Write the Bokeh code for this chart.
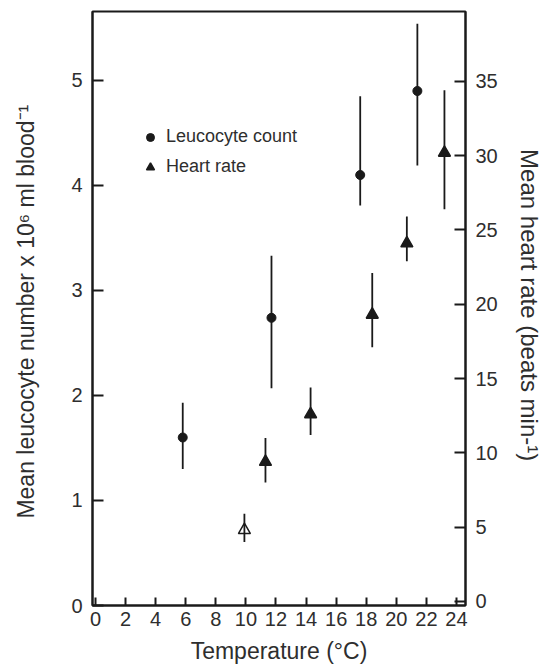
from bokeh.plotting import figure
from bokeh.models import (Range1d, LinearAxis, FixedTicker, Legend, LegendItem,
                          ColumnDataSource)
from bokeh.embed import file_html
from bokeh.resources import INLINE

# Leucocyte count (left axis, x10^6 ml blood^-1)
leuco_temp = [5.8, 11.7, 17.6, 21.4]
leuco_mean = [1.60, 2.74, 4.10, 4.90]
leuco_low = [1.30, 2.07, 3.81, 4.19]
leuco_high = [1.93, 3.33, 4.85, 5.54]

# Heart rate (right axis, beats min^-1)
hr_temp = [9.9, 11.3, 14.3, 18.4, 20.7, 23.2]
hr_mean = [4.8, 9.4, 12.6, 19.3, 24.1, 30.2]
hr_low = [4.0, 8.0, 11.2, 17.1, 22.9, 26.4]
hr_high = [5.9, 11.0, 14.4, 22.1, 25.9, 34.4]

x_ticks = [0, 2, 4, 6, 8, 10, 12, 14, 16, 18, 20, 22, 24]
left_ticks = [0, 1, 2, 3, 4, 5]
right_ticks = [0, 5, 10, 15, 20, 25, 30, 35]

x_title = "Temperature (°C)"
left_title = "Mean leucocyte number x 10\u2076  ml blood\u207b\u00b9"
right_title = "Mean heart rate (beats  min-\u00b9)"

FONT = "Liberation Sans"
TEXT = "#2e2e2e"
INK = "#1a1a1a"

p = figure(width=546, height=668, output_backend="svg", toolbar_location=None,
           x_range=Range1d(-0.2, 24.6), y_range=Range1d(0, 5.657),
           min_border_left=92, min_border_right=81, min_border_top=11,
           min_border_bottom=63)
p.extra_y_ranges = {"hr": Range1d(-0.27, 39.7)}
p.grid.visible = False
p.outline_line_color = INK
p.outline_line_width = 2
p.background_fill_color = "white"
p.border_fill_color = "white"


def style_axis(ax, tick_len, title_size):
    ax.axis_line_color = INK
    ax.axis_line_width = 2
    ax.major_tick_line_color = INK
    ax.major_tick_line_width = 2
    ax.major_tick_in = tick_len
    ax.major_tick_out = 0
    ax.minor_tick_line_color = None
    ax.major_label_text_font = FONT
    ax.major_label_text_font_size = "20px"
    ax.major_label_text_color = TEXT
    ax.axis_label_text_font = FONT
    ax.axis_label_text_font_size = title_size
    ax.axis_label_text_font_style = "normal"
    ax.axis_label_text_color = TEXT


xa = p.xaxis[0]
xa.ticker = FixedTicker(ticks=x_ticks)
xa.axis_label = x_title
style_axis(xa, 8, "23px")
xa.major_label_standoff = 6
xa.axis_label_standoff = 9

ya = p.yaxis[0]
ya.ticker = FixedTicker(ticks=left_ticks)
ya.axis_label = left_title
style_axis(ya, 11, "23px")
ya.major_label_standoff = 10
ya.axis_label_standoff = 29

yr = LinearAxis(y_range_name="hr", ticker=FixedTicker(ticks=right_ticks),
                axis_label=right_title)
style_axis(yr, 11, "24px")
yr.major_label_standoff = 10
yr.axis_label_standoff = 15
p.add_layout(yr, "right")

leuco_src = ColumnDataSource(dict(t=leuco_temp, m=leuco_mean, lo=leuco_low, hi=leuco_high))
hr_fill = ["white" if i == 0 else INK for i in range(len(hr_temp))]
hr_src = ColumnDataSource(dict(t=hr_temp, m=hr_mean, lo=hr_low, hi=hr_high, fill=hr_fill))

r_leuco = p.scatter("t", "m", source=leuco_src, marker="circle", size=9,
                    fill_color=INK, line_color=INK)
p.segment(x0="t", y0="lo", x1="t", y1="hi", source=leuco_src,
          line_color=INK, line_width=1.8)

r_hr = p.scatter("t", "m", source=hr_src, marker="triangle", size=12,
                 fill_color="fill", line_color=INK, line_width=1.5, y_range_name="hr")
p.segment(x0="t", y0="lo", x1="t", y1="hi", source=hr_src,
          line_color=INK, line_width=1.8, y_range_name="hr")

legend = Legend(items=[LegendItem(label="Leucocyte count", renderers=[r_leuco]),
                       LegendItem(label="Heart rate", renderers=[r_hr], index=1)],
                location=(38, 418), margin=0, padding=10, spacing=9,
                glyph_width=20, glyph_height=20, label_height=20, label_standoff=6,
                background_fill_alpha=0, border_line_alpha=0,
                label_text_font=FONT, label_text_font_size="18px",
                label_text_color=TEXT)
p.add_layout(legend)

open("out.html", "w").write(file_html(p, INLINE))
